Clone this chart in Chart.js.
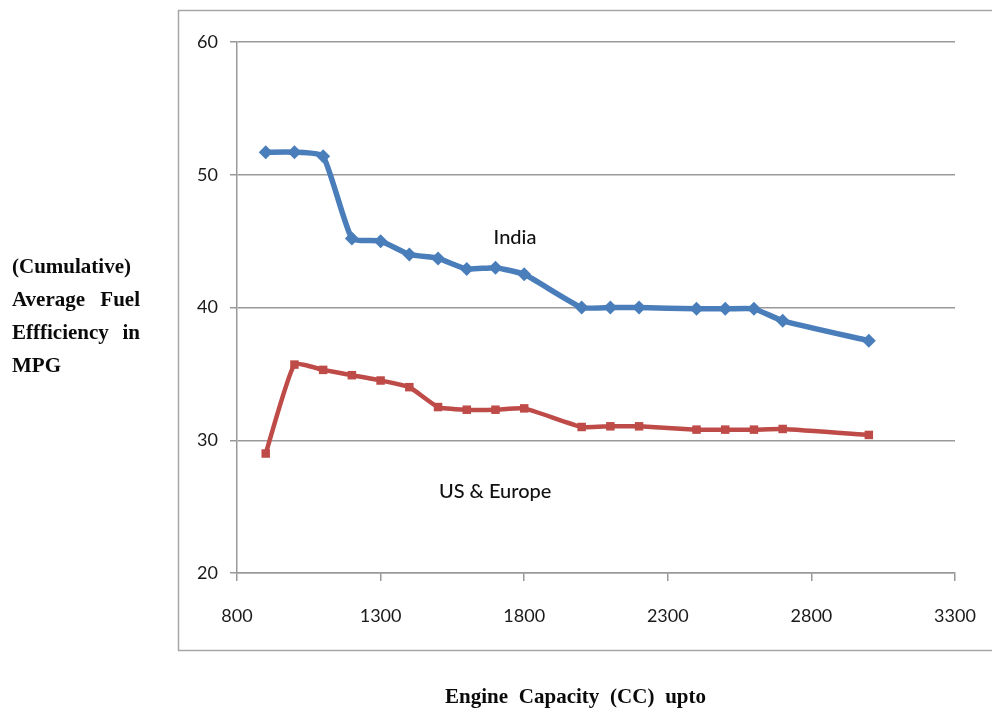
<!DOCTYPE html>
<html>
<head>
<meta charset="utf-8">
<script src="https://cdn.jsdelivr.net/npm/chart.js@4.4.1/dist/chart.umd.min.js"></script>
<style>
html,body{margin:0;padding:0;background:#fff;}
#wrap{position:relative;width:992px;height:712px;}
</style>
</head>
<body>
<div id="wrap"><canvas id="c" width="992" height="712"></canvas></div>
<script>
const capacities = [900,1000,1100,1200,1300,1400,1500,1600,1700,1800,2000,2100,2200,2400,2500,2600,2700,3000];
const indiaMPG = [51.7,51.7,51.4,45.2,45.0,44.0,43.7,42.9,43.0,42.5,40.0,40.0,40.0,39.9,39.9,39.9,39.0,37.5];
const usEuropeMPG = [29.0,35.7,35.3,34.9,34.5,34.0,32.5,32.3,32.3,32.4,31.0,31.05,31.05,30.8,30.8,30.8,30.85,30.4];
const xTicks = [800,1300,1800,2300,2800,3300];
const yTicks = [20,30,40,50,60];
const seriesNames = ["India","US & Europe"];
const yTitleLines = ["(Cumulative)","Average Fuel","Effficiency in","MPG"];
const xTitle = "Engine Capacity (CC) upto";

const toPts = (vals) => capacities.map((x,i)=>({x:x,y:vals[i]}));

const decor = {
  id:'decor',
  beforeDraw(chart){
    const ctx = chart.ctx;
    ctx.save();
    ctx.fillStyle = '#fff';
    ctx.fillRect(0,0,chart.width,chart.height);
    ctx.restore();
  },
  afterDraw(chart){
    const ctx = chart.ctx;
    const xs = chart.scales.x, ys = chart.scales.y;
    ctx.save();
    // outer box
    ctx.strokeStyle = '#a6a6a6';
    ctx.lineWidth = 1.5;
    ctx.strokeRect(178.5, 10.5, 830, 640);
    // series labels
    ctx.fillStyle = '#111';
    ctx.font = '500 20px Lato';
    ctx.textAlign = 'center';
    ctx.textBaseline = 'middle';
    ctx.fillText(seriesNames[0], xs.getPixelForValue(1768), ys.getPixelForValue(45.25));
    ctx.fillText(seriesNames[1], xs.getPixelForValue(1699), ys.getPixelForValue(26.1));
    // y title (justified)
    ctx.fillStyle = '#0a0a0a';
    ctx.font = 'bold 21px "Liberation Serif"';
    ctx.textAlign = 'left';
    const L = 12, R = 140;
    const ly = [268, 301, 334, 367];
    yTitleLines.forEach((line, i) => {
      const words = line.split(' ');
      if (words.length < 2 || i === yTitleLines.length - 1) {
        ctx.fillText(line, L, ly[i]);
        return;
      }
      const wsum = words.reduce((a,w)=>a+ctx.measureText(w).width,0);
      const gap = (R - L - wsum) / (words.length - 1);
      let x = L;
      words.forEach(w => { ctx.fillText(w, x, ly[i]); x += ctx.measureText(w).width + gap; });
    });
    // x title (spread)
    const xw = xTitle.split(' ');
    const XL = 445, XR = 706;
    const xsum = xw.reduce((a,w)=>a+ctx.measureText(w).width,0);
    const xgap = (XR - XL - xsum) / (xw.length - 1);
    let cx = XL;
    xw.forEach(w => { ctx.fillText(w, cx, 698); cx += ctx.measureText(w).width + xgap; });
    ctx.restore();
  }
};

new Chart(document.getElementById('c'), {
  type: 'line',
  data: {
    datasets: [
      {
        label: seriesNames[0],
        data: toPts(indiaMPG),
        borderColor: '#4a7ebb',
        backgroundColor: '#4a7ebb',
        borderWidth: 5.5,
        pointStyle: 'rectRot',
        pointRadius: 7,
        pointBorderWidth: 0,
        tension: 0.15,
        fill: false
      },
      {
        label: seriesNames[1],
        data: toPts(usEuropeMPG),
        borderColor: '#be4b48',
        backgroundColor: '#be4b48',
        borderWidth: 4.5,
        pointStyle: 'rect',
        pointRadius: 6,
        pointBorderWidth: 0,
        tension: 0.15,
        fill: false
      }
    ]
  },
  options: {
    responsive: false,
    animation: false,
    devicePixelRatio: 1,
    layout: { autoPadding: false, padding: { left: 0, top: 42, right: 37, bottom: 0 } },
    plugins: { legend: { display: false }, tooltip: { enabled: false } },
    scales: {
      x: {
        type: 'linear',
        min: 800, max: 3300,
        afterBuildTicks: s => { s.ticks = xTicks.map(v => ({value: v})); },
        afterFit: s => { s.height = 139; s.paddingLeft = 0; s.paddingRight = 0; },
        grid: { drawOnChartArea: false, drawTicks: true, tickLength: 8, color: '#999', lineWidth: 1.5 },
        border: { display: true, color: '#999', width: 1.5 },
        ticks: { color: '#1a1a1a', font: { family: 'Lato', size: 18 }, padding: 24, maxRotation: 0, callback: v => String(v) }
      },
      y: {
        type: 'linear',
        min: 20, max: 60,
        afterBuildTicks: s => { s.ticks = yTicks.map(v => ({value: v})); },
        afterFit: s => { s.width = 237; s.paddingTop = 0; s.paddingBottom = 0; },
        grid: { drawTicks: true, tickLength: 7, color: '#999', lineWidth: 1.5 },
        border: { display: true, color: '#999', width: 1.5 },
        ticks: { color: '#1a1a1a', font: { family: 'Lato', size: 18 }, padding: 12, callback: v => String(v) }
      }
    }
  },
  plugins: [decor]
});
</script>
</body>
</html>
